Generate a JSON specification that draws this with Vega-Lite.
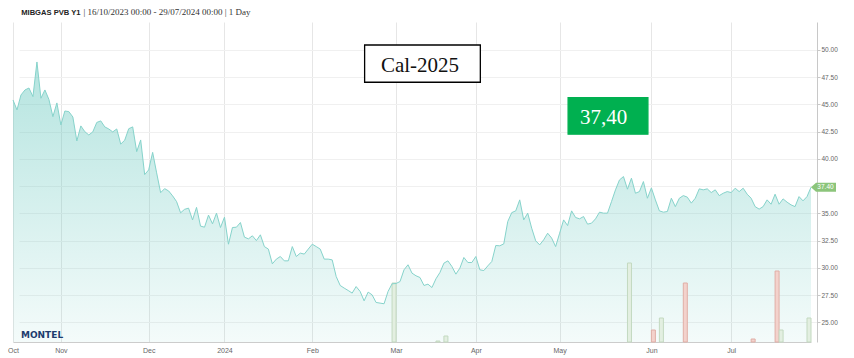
{
  "$schema": "https://vega.github.io/schema/vega-lite/v6.json",
  "width": 804,
  "height": 320,
  "autosize": {"type": "none"},
  "padding": {"left": 13, "top": 22, "right": 37, "bottom": 16},
  "background": "#ffffff",
  "config": {"view": {"stroke": null}},
  "datasets": {
    "p": [
      {"d":"2023-10-16","v":45.41},{"d":"2023-10-17","v":44.50},{"d":"2023-10-18","v":45.87},{"d":"2023-10-19","v":46.33},{"d":"2023-10-20","v":46.51},
      {"d":"2023-10-23","v":45.72},{"d":"2023-10-24","v":48.90},{"d":"2023-10-25","v":45.57},{"d":"2023-10-26","v":46.33},{"d":"2023-10-27","v":45.46},
      {"d":"2023-10-30","v":43.88},{"d":"2023-10-31","v":45.14},{"d":"2023-11-01","v":43.12},{"d":"2023-11-02","v":44.40},{"d":"2023-11-03","v":44.34},
      {"d":"2023-11-06","v":43.85},{"d":"2023-11-07","v":41.65},{"d":"2023-11-08","v":43.03},{"d":"2023-11-09","v":42.50},{"d":"2023-11-10","v":42.20},
      {"d":"2023-11-13","v":42.48},{"d":"2023-11-14","v":43.35},{"d":"2023-11-15","v":43.49},{"d":"2023-11-16","v":42.94},{"d":"2023-11-17","v":42.75},
      {"d":"2023-11-20","v":42.48},{"d":"2023-11-21","v":42.75},{"d":"2023-11-22","v":41.36},{"d":"2023-11-23","v":41.72},{"d":"2023-11-24","v":42.77},
      {"d":"2023-11-27","v":42.94},{"d":"2023-11-28","v":40.67},{"d":"2023-11-29","v":41.74},{"d":"2023-11-30","v":38.56},{"d":"2023-12-01","v":38.99},
      {"d":"2023-12-04","v":40.60},{"d":"2023-12-05","v":38.72},{"d":"2023-12-06","v":36.90},{"d":"2023-12-07","v":37.27},{"d":"2023-12-08","v":37.06},
      {"d":"2023-12-11","v":36.61},{"d":"2023-12-12","v":36.08},{"d":"2023-12-13","v":35.05},{"d":"2023-12-14","v":35.37},{"d":"2023-12-15","v":35.48},
      {"d":"2023-12-18","v":34.40},{"d":"2023-12-19","v":35.55},{"d":"2023-12-20","v":33.83},{"d":"2023-12-21","v":33.73},{"d":"2023-12-22","v":34.84},
      {"d":"2023-12-27","v":34.04},{"d":"2023-12-28","v":35.02},{"d":"2023-12-29","v":33.70},{"d":"2024-01-02","v":34.65},{"d":"2024-01-03","v":32.17},
      {"d":"2024-01-04","v":33.70},{"d":"2024-01-05","v":33.73},{"d":"2024-01-08","v":34.16},{"d":"2024-01-09","v":32.82},{"d":"2024-01-10","v":32.66},
      {"d":"2024-01-11","v":32.94},{"d":"2024-01-12","v":32.50},{"d":"2024-01-15","v":33.03},{"d":"2024-01-16","v":31.95},{"d":"2024-01-17","v":31.72},
      {"d":"2024-01-18","v":30.37},{"d":"2024-01-19","v":30.80},{"d":"2024-01-22","v":31.04},{"d":"2024-01-23","v":30.64},{"d":"2024-01-24","v":30.64},
      {"d":"2024-01-25","v":31.95},{"d":"2024-01-26","v":31.04},{"d":"2024-01-29","v":31.35},{"d":"2024-01-30","v":31.26},{"d":"2024-01-31","v":31.72},
      {"d":"2024-02-01","v":32.17},{"d":"2024-02-02","v":31.95},{"d":"2024-02-05","v":31.72},{"d":"2024-02-06","v":30.80},{"d":"2024-02-07","v":30.80},
      {"d":"2024-02-08","v":30.73},{"d":"2024-02-09","v":29.20},{"d":"2024-02-12","v":28.38},{"d":"2024-02-13","v":28.14},{"d":"2024-02-14","v":27.92},
      {"d":"2024-02-15","v":27.68},{"d":"2024-02-16","v":28.28},{"d":"2024-02-19","v":27.83},{"d":"2024-02-20","v":26.97},{"d":"2024-02-21","v":27.77},
      {"d":"2024-02-22","v":27.52},{"d":"2024-02-23","v":26.82},{"d":"2024-02-26","v":26.76},{"d":"2024-02-27","v":26.70},{"d":"2024-02-28","v":27.83},
      {"d":"2024-02-29","v":28.53},{"d":"2024-03-01","v":28.56},{"d":"2024-03-04","v":28.74},{"d":"2024-03-05","v":29.82},{"d":"2024-03-06","v":30.28},
      {"d":"2024-03-07","v":29.51},{"d":"2024-03-08","v":29.27},{"d":"2024-03-11","v":29.11},{"d":"2024-03-12","v":28.38},{"d":"2024-03-13","v":28.50},
      {"d":"2024-03-14","v":28.19},{"d":"2024-03-15","v":28.99},{"d":"2024-03-18","v":29.57},{"d":"2024-03-19","v":30.43},{"d":"2024-03-20","v":30.64},
      {"d":"2024-03-21","v":30.12},{"d":"2024-03-22","v":29.42},{"d":"2024-03-25","v":29.97},{"d":"2024-03-26","v":30.95},{"d":"2024-03-27","v":30.49},
      {"d":"2024-03-28","v":30.49},{"d":"2024-04-02","v":31.04},{"d":"2024-04-03","v":29.82},{"d":"2024-04-04","v":29.75},{"d":"2024-04-05","v":30.18},
      {"d":"2024-04-08","v":30.58},{"d":"2024-04-09","v":32.05},{"d":"2024-04-10","v":32.02},{"d":"2024-04-11","v":32.20},{"d":"2024-04-12","v":34.25},
      {"d":"2024-04-15","v":35.07},{"d":"2024-04-16","v":35.23},{"d":"2024-04-17","v":36.24},{"d":"2024-04-18","v":34.40},{"d":"2024-04-19","v":35.02},
      {"d":"2024-04-22","v":33.64},{"d":"2024-04-23","v":32.48},{"d":"2024-04-24","v":32.11},{"d":"2024-04-25","v":32.57},{"d":"2024-04-26","v":33.18},
      {"d":"2024-04-29","v":32.73},{"d":"2024-04-30","v":31.95},{"d":"2024-05-01","v":33.18},{"d":"2024-05-02","v":34.40},{"d":"2024-05-03","v":33.88},
      {"d":"2024-05-06","v":35.23},{"d":"2024-05-07","v":34.62},{"d":"2024-05-08","v":34.50},{"d":"2024-05-09","v":34.71},{"d":"2024-05-10","v":34.01},
      {"d":"2024-05-13","v":34.10},{"d":"2024-05-14","v":34.50},{"d":"2024-05-15","v":35.11},{"d":"2024-05-16","v":35.02},{"d":"2024-05-17","v":35.02},
      {"d":"2024-05-20","v":36.08},{"d":"2024-05-21","v":37.16},{"d":"2024-05-22","v":38.07},{"d":"2024-05-23","v":38.38},{"d":"2024-05-24","v":37.22},
      {"d":"2024-05-27","v":38.23},{"d":"2024-05-28","v":36.85},{"d":"2024-05-29","v":37.00},{"d":"2024-05-30","v":37.92},{"d":"2024-05-31","v":36.39},
      {"d":"2024-06-03","v":37.34},{"d":"2024-06-04","v":36.24},{"d":"2024-06-05","v":35.23},{"d":"2024-06-06","v":35.11},{"d":"2024-06-07","v":35.17},
      {"d":"2024-06-10","v":36.39},{"d":"2024-06-11","v":35.62},{"d":"2024-06-12","v":36.39},{"d":"2024-06-13","v":36.63},{"d":"2024-06-14","v":36.49},
      {"d":"2024-06-17","v":35.94},{"d":"2024-06-18","v":36.39},{"d":"2024-06-19","v":37.25},{"d":"2024-06-20","v":37.16},{"d":"2024-06-21","v":37.25},
      {"d":"2024-06-24","v":36.91},{"d":"2024-06-25","v":37.16},{"d":"2024-06-26","v":36.63},{"d":"2024-06-27","v":36.85},{"d":"2024-06-28","v":37.00},
      {"d":"2024-07-01","v":36.91},{"d":"2024-07-02","v":37.31},{"d":"2024-07-03","v":37.00},{"d":"2024-07-04","v":37.31},{"d":"2024-07-05","v":36.76},
      {"d":"2024-07-08","v":36.39},{"d":"2024-07-09","v":35.62},{"d":"2024-07-10","v":35.39},{"d":"2024-07-11","v":35.62},{"d":"2024-07-12","v":36.24},
      {"d":"2024-07-15","v":35.84},{"d":"2024-07-16","v":36.76},{"d":"2024-07-17","v":35.84},{"d":"2024-07-18","v":36.33},{"d":"2024-07-19","v":36.03},
      {"d":"2024-07-22","v":35.78},{"d":"2024-07-23","v":35.62},{"d":"2024-07-24","v":36.54},{"d":"2024-07-25","v":36.15},{"d":"2024-07-26","v":36.54},
      {"d":"2024-07-29","v":37.40}
    ],
    "bars": [
      {"d":"2024-06-04","s":"B","v":6},{"d":"2024-06-14","s":"B","v":29.5},{"d":"2024-07-09","s":"B","v":1.5},{"d":"2024-07-17","s":"B","v":35.5},
      {"d":"2024-02-29","s":"A","v":29.5},{"d":"2024-03-15","s":"A","v":0.5},{"d":"2024-03-19","s":"A","v":3},{"d":"2024-05-24","s":"A","v":39.5},
      {"d":"2024-06-05","s":"A","v":12},{"d":"2024-07-17","s":"A","v":6},{"d":"2024-07-26","s":"A","v":12}
    ],
    "ann": [
      {"d1":"2024-02-20","d2":"2024-04-03","y1":50.46,"y2":47.04,"dt":"2024-03-11","yt":47.95,"k":"cal","label":"Cal-2025"},
      {"d1":"2024-05-03","d2":"2024-05-31","y1":45.62,"y2":42.27,"dt":"2024-05-16","yt":43.21,"k":"px","label":"37,40"}
    ],
    "last": [{"d":"2024-07-29","v":37.4,"t":"37.40"}],
    "logo": [{"d":"2023-10-18","v":23.55,"t":"MONTEL"}]
  },
  "encoding": {
    "x": {
      "field": "d", "type": "ordinal", "sort": "ascending",
      "scale": {"type": "point", "padding": 0, "range": [0, 798]},
      "axis": {
        "values": ["2023-10-16","2023-11-01","2023-12-01","2024-01-02","2024-02-01","2024-03-01","2024-04-02","2024-05-01","2024-06-03","2024-07-01"],
        "labelExpr": "datum.value == '2024-01-02' ? '2024' : utcFormat(toDate(datum.value), '%b')",
        "grid": true, "gridColor": "#e6e6e6", "ticks": false, "tickSize": 0,
        "domainColor": "#cccccc", "labelFont": "Liberation Sans", "labelFontSize": 7,
        "labelColor": "#666666", "labelPadding": 4, "labelAngle": 0, "labelOverlap": false,
        "title": "MIBGAS PVB Y1", "titleX": 7.7, "titleY": -328, "titleAlign": "left", "titleAnchor": "start",
        "titleBaseline": "alphabetic", "titleFont": "Liberation Sans", "titleFontSize": 7.6, "titleFontWeight": "bold", "titleColor": "#222222"
      }
    }
  },
  "layer": [
    {
      "data": {"name": "p"},
      "mark": {"type": "area", "line": false, "opacity": 1, "fill": {"x1": 0, "y1": 0, "x2": 0, "y2": 1, "gradient": "linear", "stops": [{"offset": 0, "color": "rgba(100,199,189,0.48)"}, {"offset": 1, "color": "rgba(100,199,189,0.07)"}]}},
      "encoding": {
        "y": {"field": "v", "type": "quantitative", "scale": {"domain": [23.19, 52.57], "nice": false, "zero": false},
          "axis": {"orient": "right", "values": [25,27.5,30,32.5,35,37.5,40,42.5,45,47.5,50],
            "labelExpr": "datum.value == 37.5 ? '' : format(datum.value, '.2f')",
            "grid": true, "gridColor": "#f0f0f0", "domainColor": "#c8c8c8", "tickColor": "#c8c8c8", "tickSize": 3,
            "labelPadding": 1, "labelFont": "Liberation Sans", "labelFontSize": 6.5, "labelColor": "#666666",
            "labelBaseline": "middle", "labelAlign": "left",
            "title": "| 16/10/2023 00:00 - 29/07/2024 00:00 | 1 Day", "titleX": -734, "titleY": -8, "titleAngle": 0,
            "titleAlign": "left", "titleBaseline": "alphabetic", "titleFont": "Liberation Serif", "titleFontSize": 9,
            "titleFontWeight": "normal", "titleColor": "#333333"}},
        "y2": {"datum": 23.19}
      }
    },
    {
      "data": {"name": "bars"},
      "encoding": {"y": {"field": "v", "type": "quantitative", "scale": {"domain": [0, 160], "nice": false, "zero": true}, "axis": null}},
      "layer": [
        {"transform": [{"filter": "datum.s === 'B'"}], "mark": {"type": "bar", "width": 4, "xOffset": -2, "fill": "#f3d2cc", "stroke": "#e0aea6", "strokeWidth": 1}},
        {"transform": [{"filter": "datum.s === 'A'"}], "mark": {"type": "bar", "width": 4, "xOffset": 2, "fill": "#e3efe1", "stroke": "#c3d9c0", "strokeWidth": 1}}
      ]
    },
    {
      "layer": [
        {
          "data": {"name": "p"},
          "mark": {"type": "line", "stroke": "#86d3cb", "strokeWidth": 1},
          "encoding": {"y": {"field": "v", "type": "quantitative", "scale": {"domain": [23.19, 52.57], "nice": false, "zero": false}, "axis": null}}
        },
        {
          "data": {"name": "last"},
          "mark": {"type": "point", "shape": "M0,0L0.4,-0.36L2,-0.36L2,0.36L0.4,0.36Z", "size": 625, "filled": true, "color": "#8cc57b", "opacity": 1},
          "encoding": {"y": {"field": "v", "type": "quantitative", "scale": {"domain": [23.19, 52.57], "nice": false, "zero": false}, "axis": null}}
        },
        {
          "data": {"name": "last"},
          "mark": {"type": "text", "dx": 14.5, "align": "center", "baseline": "middle", "font": "Liberation Sans", "fontSize": 6.5, "color": "#ffffff"},
          "encoding": {"y": {"field": "v", "type": "quantitative", "scale": {"domain": [23.19, 52.57], "nice": false, "zero": false}, "axis": null}, "text": {"field": "t"}}
        },
        {
          "data": {"name": "ann"},
          "mark": {"type": "rect", "strokeWidth": 1.3, "xOffset": 0.5, "x2Offset": 0.5},
          "encoding": {
            "x": {"field": "d1", "type": "ordinal", "scale": {"type": "point"}},
            "x2": {"field": "d2"},
            "y": {"field": "y1", "type": "quantitative", "scale": {"domain": [23.19, 52.57], "nice": false, "zero": false}, "axis": null},
            "y2": {"field": "y2"},
            "fill": {"field": "k", "type": "nominal", "scale": {"domain": ["cal", "px"], "range": ["#ffffff", "#00b050"]}, "legend": null},
            "stroke": {"field": "k", "type": "nominal", "scale": {"domain": ["cal", "px"], "range": ["#000000", "#00b050"]}, "legend": null}
          }
        },
        {
          "data": {"name": "ann"},
          "mark": {"type": "text", "align": "center", "baseline": "alphabetic", "font": "Liberation Serif", "fontSize": 21},
          "encoding": {
            "x": {"field": "dt", "type": "ordinal", "scale": {"type": "point"}},
            "y": {"field": "yt", "type": "quantitative", "scale": {"domain": [23.19, 52.57], "nice": false, "zero": false}, "axis": null},
            "text": {"field": "label"},
            "color": {"field": "k", "type": "nominal", "scale": {"domain": ["cal", "px"], "range": ["#111111", "#ffffff"]}, "legend": null}
          }
        },
        {
          "data": {"name": "logo"},
          "mark": {"type": "text", "align": "left", "baseline": "alphabetic", "font": "DejaVu Sans", "fontSize": 9, "fontWeight": 900, "color": "#1d3c6e"},
          "encoding": {"y": {"field": "v", "type": "quantitative", "scale": {"domain": [23.19, 52.57], "nice": false, "zero": false}, "axis": null}, "text": {"field": "t"}}
        }
      ]
    }
  ],
  "resolve": {"scale": {"y": "independent"}}
}
